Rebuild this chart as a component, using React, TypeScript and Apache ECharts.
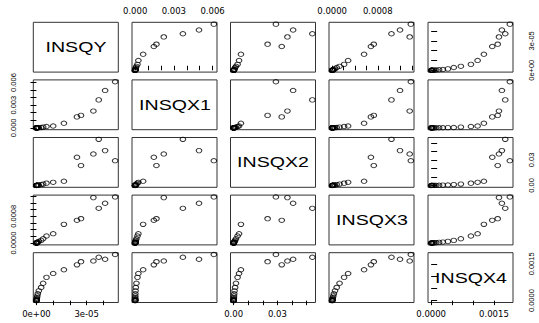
import React, { useEffect, useRef } from "react";
import * as echarts from "echarts";

const varNames = ["INSQY", "INSQX1", "INSQX2", "INSQX3", "INSQX4"];

// observations (same order in every array)
const insqy = [4.7e-5, 3.72e-5, 4.1e-5, 3.4e-5, 2.66e-5, 2.42e-5, 1.64e-5, 1.0e-5, 0.6e-5, 0.4e-5, 0.28e-5, 0.14e-5, 0.08e-5, 0.05e-5, 0.03e-5, 0.02e-5, 0.012e-5, 0.007e-5, 0.004e-5, 0.002e-5, 0.001e-5, 0];
const insqx1 = [0.0061, 0.0037, 0.00495, 0.00222, 0.00165, 0.00145, 0.00062, 0.00025, 0.00018, 0.0001, 0.00005, 0.00003, 0.000015, 0.00001, 0.000006, 0.000004, 0.000002, 0.000001, 0.0000006, 0.0000003, 0.0000001, 0];
const insqx2 = [0.029, 0.054, 0.0408, 0.0369, 0.0233, 0.033, 0.005, 0.0037, 0.0027, 0.0016, 0.001, 0.0006, 0.0004, 0.00025, 0.00015, 0.0001, 0.00006, 0.00004, 0.00002, 0.00001, 0.000005, 0];
const insqx3 = [0.00138, 0.00104, 0.00119, 0.00136, 0.00073, 0.00068, 0.00056, 0.00028, 0.00021, 0.00013, 0.00008, 0.00005, 0.00003, 0.00002, 0.000012, 0.000008, 0.000005, 0.000003, 0.000002, 0.000001, 0.0000005, 0];
const insqx4 = [0.00188, 0.00177, 0.00169, 0.00162, 0.00159, 0.00146, 0.00126, 0.00111, 0.00095, 0.00071, 0.00054, 0.0004, 0.00028, 0.00019, 0.00012, 0.00008, 0.00005, 0.00003, 0.00002, 0.00001, 0.000005, 0];

const tickY = [0, 1e-5, 2e-5, 3e-5, 4e-5];
const tickX1 = [0, 0.001, 0.002, 0.003, 0.004, 0.005, 0.006];
const tickX2 = [0, 0.01, 0.02, 0.03, 0.04, 0.05];
const tickX3 = [0, 0.0002, 0.0004, 0.0006, 0.0008, 0.001, 0.0012, 0.0014];
const tickX4 = [0, 0.0005, 0.001, 0.0015];

const labelValY = [0, 3e-5];
const labelValX1 = [0, 0.003, 0.006];
const labelValX2 = [0, 0.03];
const labelValX3 = [0, 0.0008];
const labelValX4 = [0, 0.0015];

const labelTxtY = ["0e+00", "3e-05"];
const labelTxtX1 = ["0.000", "0.003", "0.006"];
const labelTxtX2 = ["0.00", "0.03"];
const labelTxtX3 = ["0.0000", "0.0008"];
const labelTxtX4 = ["0.0000", "0.0015"];

const vars = [insqy, insqx1, insqx2, insqx3, insqx4];
const ticks = [tickY, tickX1, tickX2, tickX3, tickX4];
const labelVals = [labelValY, labelValX1, labelValX2, labelValX3, labelValX4];
const labelTxts = [labelTxtY, labelTxtX1, labelTxtX2, labelTxtX3, labelTxtX4];

const colLeft = [33.3, 132, 230.5, 329, 428];
const rowTop = [22.3, 79.9, 137.5, 195.1, 252.7];
const panelW = 85;
const panelH = 49.8;

function ext(a: number[]) {
  const mn = Math.min(...a);
  const mx = Math.max(...a);
  const r = mx - mn;
  return [mn - 0.04 * r, mx + 0.04 * r];
}

function fmt(v: number) {
  return (val: number) => {
    const idx = labelVals[v].findIndex((x) => Math.abs(x - val) <= Math.abs(x) * 1e-9 + 1e-15);
    return idx >= 0 ? labelTxts[v][idx] : "";
  };
}

export default function App() {
  const ref = useRef<HTMLDivElement>(null);
  useEffect(() => {
    if (!ref.current) return;
    const chart = echarts.init(ref.current, null, { renderer: "svg" });
    const grids: any[] = [];
    const xAxes: any[] = [];
    const yAxes: any[] = [];
    const series: any[] = [];
    const graphics: any[] = [];
    const hFont = "'DejaVu Sans', sans-serif";
    const vFont = "'Liberation Sans', Arial, sans-serif";
    for (let i = 0; i < 5; i++) {
      for (let j = 0; j < 5; j++) {
        const g = i * 5 + j;
        grids.push({
          left: colLeft[j],
          top: rowTop[i],
          width: panelW,
          height: panelH,
          show: true,
          borderColor: "#333",
          borderWidth: 1,
          backgroundColor: "transparent",
        });
        const ex = ext(vars[j]);
        const ey = ext(vars[i]);
        const showTop = i === 0 && (j === 1 || j === 3);
        const showBottom = i === 4 && (j === 0 || j === 2 || j === 4);
        const showLeft = j === 0 && (i === 1 || i === 3);
        const showRight = j === 4 && (i === 0 || i === 2 || i === 4);
        const sx = showTop || showBottom;
        const sy = showLeft || showRight;
        xAxes.push({
          type: "value",
          gridIndex: g,
          min: ex[0],
          max: ex[1],
          position: showTop ? "top" : "bottom",
          axisLine: { show: false },
          splitLine: { show: false },
          axisTick: {
            show: sx,
            length: 4.5,
            customValues: ticks[j],
            lineStyle: { color: "#000", width: 1 },
          },
          axisLabel: {
            show: sx,
            customValues: labelVals[j],
            formatter: fmt(j),
            fontSize: 8.5,
            fontFamily: hFont,
            color: "#000",
            margin: 7,
            hideOverlap: false,
          },
        });
        yAxes.push({
          type: "value",
          gridIndex: g,
          min: ey[0],
          max: ey[1],
          position: showRight ? "right" : "left",
          axisLine: { show: false },
          splitLine: { show: false },
          axisTick: {
            show: sy,
            length: 6,
            customValues: ticks[i],
            lineStyle: { color: "#000", width: 1 },
          },
          axisLabel: {
            show: sy,
            customValues: labelVals[i],
            formatter: fmt(i),
            rotate: 90,
            fontSize: 7.5,
            fontFamily: vFont,
            color: "#000",
            margin: showRight ? 14.5 : 15.5,
            hideOverlap: false,
          },
        });
        if (i !== j) {
          series.push({
            type: "scatter",
            xAxisIndex: g,
            yAxisIndex: g,
            silent: true,
            symbol: "circle",
            symbolSize: [5.6, 4.4],
            itemStyle: { color: "rgba(0,0,0,0)", borderColor: "#000", borderWidth: 1 },
            data: vars[j].map((xv, k) => [xv, vars[i][k]]),
          });
        } else {
          graphics.push({
            type: "text",
            x: Math.round(colLeft[j] + panelW / 2),
            y: Math.round(rowTop[i] + panelH / 2),
            scaleX: 1.35,
            z: 100,
            style: {
              text: varNames[i],
              fontSize: 14.5,
              fontFamily: "'Liberation Sans', Arial, sans-serif",
              fill: "#000",
              align: "center",
              verticalAlign: "middle",
            },
          });
        }
      }
    }
    chart.setOption({
      animation: false,
      backgroundColor: "#fff",
      grid: grids,
      xAxis: xAxes,
      yAxis: yAxes,
      series,
      graphic: graphics,
    });
    return () => chart.dispose();
  }, []);
  return (
    <div
      ref={ref}
      style={{ position: "absolute", left: 0, top: 0, width: 539, height: 323 }}
    />
  );
}
